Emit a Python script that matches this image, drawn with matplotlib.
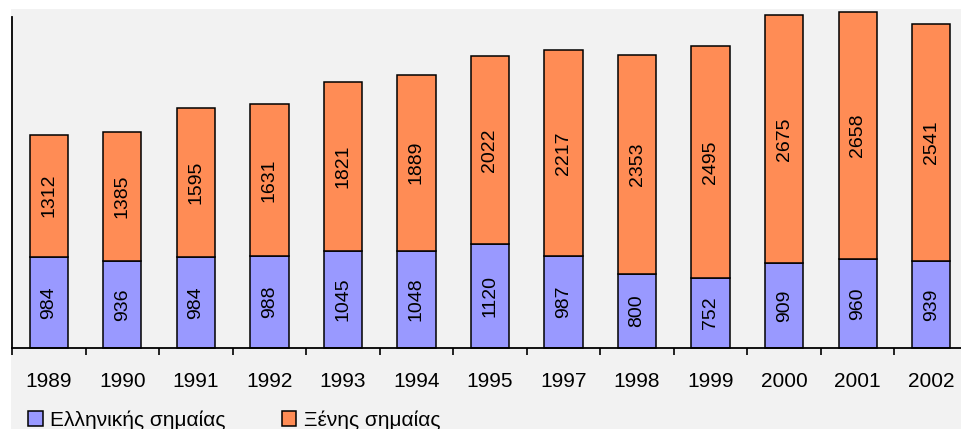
import numpy as np
import matplotlib
matplotlib.use("Agg")
import matplotlib.pyplot as plt
from matplotlib.patches import Rectangle

plt.rcParams['font.family'] = ['Liberation Sans', 'DejaVu Sans']

#-----------------------------------Data---------------------------------------

years = ['1989', '1990', '1991', '1992', '1993', '1994', '1995',
         '1997', '1998', '1999', '2000', '2001', '2002']
greek_flag = [984, 936, 984, 988, 1045, 1048, 1120, 987, 800, 752, 909, 960, 939]
foreign_flag = [1312, 1385, 1595, 1631, 1821, 1889, 2022, 2217, 2353, 2495, 2675, 2658, 2541]
series_names = ['Ελληνικής σημαίας', 'Ξένης σημαίας']

blue = '#9999ff'
orange = '#ff8c55'
bg = '#f2f2f2'

#-----------------------------------Figure-------------------------------------

W, H = 962, 429
fig = plt.figure(figsize=(W / 100, H / 100), dpi=100)
fig.patch.set_facecolor('white')
# gray panel leaving a thin white strip at top and left
fig.patches.append(Rectangle((11 / W, 0), 1, (H - 9) / H, transform=fig.transFigure,
                             facecolor=bg, edgecolor='none', zorder=-10))

left, right = 12, 968
bottom, top = 348, 17
ax = fig.add_axes([left / W, (H - bottom) / H, (right - left) / W, (bottom - top) / H])
ax.set_facecolor('none')

x = np.arange(len(years))
g = np.array(greek_flag)
f = np.array(foreign_flag)

b1 = ax.bar(x, g, width=0.52, color=blue, edgecolor='black', linewidth=1.1,
            label=series_names[0], clip_on=False)
b2 = ax.bar(x, f, width=0.52, bottom=g, color=orange, edgecolor='black', linewidth=1.1,
            label=series_names[1], clip_on=False)

for i in range(len(years)):
    ax.text(x[i], g[i] / 2, str(g[i]), rotation=90, ha='center', va='center', fontsize=14)
    ax.text(x[i], g[i] + f[i] / 2, str(f[i]), rotation=90, ha='center', va='center', fontsize=14)

ax.set_xlim(-0.5, len(years) - 0.5)
ax.set_ylim(0, 3560)

for s in ['top', 'right']:
    ax.spines[s].set_visible(False)
ax.spines['left'].set_linewidth(1.3)
ax.spines['bottom'].set_linewidth(1.3)

ax.set_yticks([])
ax.set_xticks(x)
ax.set_xticklabels(years, fontsize=15)
ax.tick_params(axis='x', which='major', length=0, pad=17)
ax.set_xticks(np.arange(len(years) + 1) - 0.5, minor=True)
ax.tick_params(axis='x', which='minor', length=5, width=1.2, direction='out')

leg = fig.legend(handles=[b1, b2], labels=series_names, loc='center left',
                 bbox_to_anchor=(28 / W, (H - 420) / H), ncol=2, frameon=False,
                 fontsize=15, handlelength=0.7, handleheight=0.7, handletextpad=0.35,
                 columnspacing=2.7, borderpad=0, borderaxespad=0)

fig.savefig('out.png', dpi=100, facecolor=fig.get_facecolor())
